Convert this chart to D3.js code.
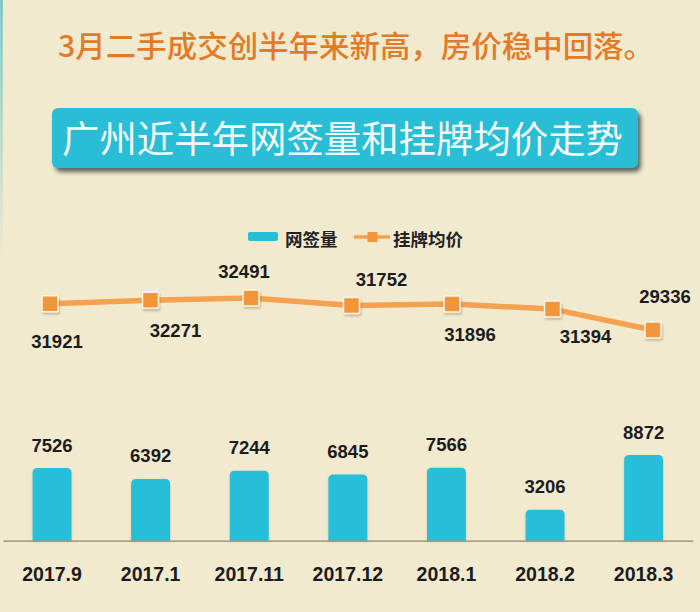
<!DOCTYPE html>
<html>
<head>
<meta charset="utf-8">
<script src="https://cdnjs.cloudflare.com/ajax/libs/d3/7.8.5/d3.min.js"></script>
<style>
  html, body { margin: 0; padding: 0; background: #f2eacf; }
  svg { display: block; }
</style>
</head>
<body>
<svg id="chart" width="700" height="612"></svg>
<script>
// ---- data ----
const categories = ["2017.9", "2017.1", "2017.11", "2017.12", "2018.1", "2018.2", "2018.3"];
const volumes = [7526, 6392, 7244, 6845, 7566, 3206, 8872];        // 网签量
const prices  = [31921, 32271, 32491, 31752, 31896, 31394, 29336]; // 挂牌均价
const headline = "3月二手成交创半年来新高，房价稳中回落。";
const chartTitle = "广州近半年网签量和挂牌均价走势";
const legendLabels = ["网签量", "挂牌均价"];

// ---- layout / style (not data) ----
const priceLabelOffsets = [[7, 44], [25, 37], [-7, -20], [30, -19], [18, 37], [33, 34], [12, -27]];
const BG = "#f2eacf", TEAL = "#29bdd6", ORANGE = "#f2953a", LINE = "#f4a24f";
const numFont = "'Liberation Sans', Arial, sans-serif";
const cjkFont = "'Noto Sans CJK SC', 'Noto Sans', sans-serif";

const svg = d3.select("#chart");
const defs = svg.append("defs");
const sh = defs.append("filter").attr("id", "boxShadow").attr("x", "-5%").attr("y", "-20%").attr("width", "115%").attr("height", "160%");
sh.append("feDropShadow").attr("dx", 3).attr("dy", 4).attr("stdDeviation", 2).attr("flood-color", "#2d3a3a").attr("flood-opacity", 0.75);
const ms = defs.append("filter").attr("id", "mkShadow").attr("x", "-50%").attr("y", "-50%").attr("width", "200%").attr("height", "200%");
ms.append("feDropShadow").attr("dx", 1).attr("dy", 2).attr("stdDeviation", 1.2).attr("flood-color", "#6b5a3a").attr("flood-opacity", 0.35);
const bs = defs.append("filter").attr("id", "barShadow").attr("x", "-20%").attr("y", "-10%").attr("width", "140%").attr("height", "120%");
bs.append("feDropShadow").attr("dx", 0).attr("dy", 1).attr("stdDeviation", 1.2).attr("flood-color", "#6b5a3a").attr("flood-opacity", 0.25);
const fg = defs.append("linearGradient").attr("id", "frameFade").attr("gradientUnits", "userSpaceOnUse")
  .attr("x1", 0).attr("y1", 0).attr("x2", 0).attr("y2", 260);
fg.append("stop").attr("offset", 0).attr("stop-color", "#4fc0c8").attr("stop-opacity", 0.85);
fg.append("stop").attr("offset", 1).attr("stop-color", "#4fc0c8").attr("stop-opacity", 0);

svg.append("rect").attr("width", 700).attr("height", 612).attr("fill", BG);
// teal frame edge (only faintly visible at top-left)
svg.append("rect").attr("x", 1.5).attr("y", -30).attr("width", 760).attr("height", 700)
  .attr("rx", 24).attr("fill", "none").attr("stroke", "url(#frameFade)").attr("stroke-width", 2.5);

// headline
svg.append("text").attr("x", 58).attr("y", 57)
  .attr("textLength", 596).attr("lengthAdjust", "spacingAndGlyphs")
  .attr("font-family", cjkFont).attr("font-size", 30).attr("font-weight", 500)
  .attr("fill", "#e27b27").text(headline);

// title box
svg.append("rect").attr("x", 52).attr("y", 108).attr("width", 586).attr("height", 60)
  .attr("rx", 6).attr("fill", TEAL).attr("filter", "url(#boxShadow)");
svg.append("text").attr("x", 62).attr("y", 153)
  .attr("textLength", 561).attr("lengthAdjust", "spacingAndGlyphs")
  .attr("font-family", cjkFont).attr("font-size", 37).attr("font-weight", 400)
  .attr("fill", "#f2fbfb").text(chartTitle);

// legend
const lg = svg.append("g");
lg.append("rect").attr("x", 248).attr("y", 232).attr("width", 30).attr("height", 9).attr("rx", 2).attr("fill", TEAL);
lg.append("text").attr("x", 285).attr("y", 246).attr("font-family", cjkFont).attr("font-size", 17.5)
  .attr("font-weight", 700).attr("fill", "#222").text(legendLabels[0]);
lg.append("line").attr("x1", 354).attr("x2", 390).attr("y1", 237).attr("y2", 237)
  .attr("stroke", LINE).attr("stroke-width", 3.5);
lg.append("rect").attr("x", 367.5).attr("y", 232).attr("width", 10).attr("height", 10).attr("fill", ORANGE);
lg.append("text").attr("x", 393).attr("y", 246).attr("font-family", cjkFont).attr("font-size", 17.5)
  .attr("font-weight", 700).attr("fill", "#222").text(legendLabels[1]);

// ---- scales ----
const xBand = d3.scaleBand().domain(categories).range([3, 692.7]).paddingInner(0.605).paddingOuter(0.3);
const yBar = d3.scaleLinear().domain([0, 9000]).range([540.7, 453.8]);
const xPt = d3.scalePoint().domain(categories).range([50, 653]);
const yLine = d3.scaleLinear().domain([29000, 33000]).range([333.4, 292.8]);

// bars
const barData = categories.map((c, i) => ({ c, v: volumes[i] }));
svg.append("g").selectAll("path").data(barData).join("path")
  .attr("d", d => {
    const x0 = xBand(d.c), w = xBand.bandwidth(), y0 = yBar(d.v), y1 = yBar(0), r = 5;
    return `M${x0},${y1} L${x0},${y0 + r} Q${x0},${y0} ${x0 + r},${y0} L${x0 + w - r},${y0} Q${x0 + w},${y0} ${x0 + w},${y0 + r} L${x0 + w},${y1} Z`;
  })
  .attr("fill", "#27bed8").attr("filter", "url(#barShadow)");

// baseline axis
const xAxis = d3.axisBottom(xBand).tickSize(0).tickPadding(0);
const axG = svg.append("g").attr("transform", `translate(0,${yBar(0)})`).call(xAxis);
axG.select(".domain").attr("stroke", "#8f8573").attr("stroke-width", 1.2);
axG.selectAll("text").attr("y", 40).attr("dy", 0)
  .attr("font-family", numFont).attr("font-size", 19.5).attr("font-weight", 700).attr("fill", "#1c1c1c");

// bar value labels
svg.append("g").selectAll("text").data(barData).join("text")
  .attr("x", d => xBand(d.c) + xBand.bandwidth() / 2)
  .attr("y", d => yBar(d.v) - 16.5)
  .attr("text-anchor", "middle")
  .attr("font-family", numFont).attr("font-size", 18.5).attr("font-weight", 700).attr("fill", "#1c1c1c")
  .text(d => d.v);

// price line
const lineData = categories.map((c, i) => ({ c, v: prices[i], off: priceLabelOffsets[i] }));
svg.append("path").datum(lineData)
  .attr("d", d3.line().x(d => xPt(d.c)).y(d => yLine(d.v)))
  .attr("fill", "none").attr("stroke", LINE).attr("stroke-width", 5.5).attr("stroke-linejoin", "round");

svg.append("g").selectAll("rect").data(lineData).join("rect")
  .attr("x", d => xPt(d.c) - 8).attr("y", d => yLine(d.v) - 8)
  .attr("width", 16).attr("height", 16).attr("rx", 1)
  .attr("fill", ORANGE).attr("stroke", "#fff6e6").attr("stroke-width", 1.5)
  .attr("filter", "url(#mkShadow)");

svg.append("g").selectAll("text").data(lineData).join("text")
  .attr("x", d => xPt(d.c) + d.off[0])
  .attr("y", d => yLine(d.v) + d.off[1])
  .attr("text-anchor", "middle")
  .attr("font-family", numFont).attr("font-size", 18.5).attr("font-weight", 700).attr("fill", "#1c1c1c")
  .text(d => d.v);
</script>
</body>
</html>
